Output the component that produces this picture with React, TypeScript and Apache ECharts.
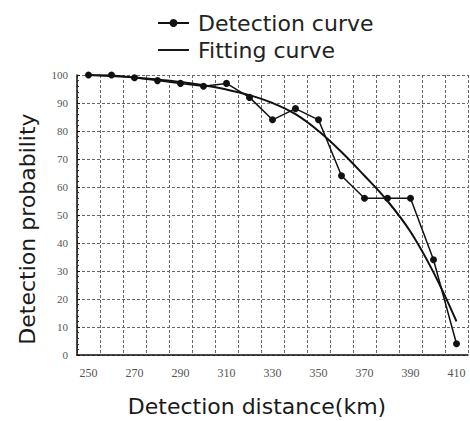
import React, { useEffect, useRef } from "react";
import * as echarts from "echarts";

const distance = [250, 260, 270, 280, 290, 300, 310, 320, 330, 340, 350, 360, 370, 380, 390, 400, 410];
const detection = [100, 100, 99, 98, 97, 96, 97, 92, 84, 88, 84, 64, 56, 56, 56, 34, 4];
const fitting = [100, 99.6, 99.1, 98.4, 97.5, 96.3, 94.8, 92.8, 90, 86, 80, 72.5, 64, 55, 44, 29.5, 12];
const xTickLabels = [250, 270, 290, 310, 330, 350, 370, 390, 410];
const xName = "Detection distance(km)";
const yName = "Detection probability";

export default function App() {
  const ref = useRef<HTMLDivElement>(null);
  useEffect(() => {
    if (!ref.current) return;
    const chart = echarts.init(ref.current, null, { renderer: "svg" });
    const gridLine = { show: true, lineStyle: { color: "#666", type: [3, 2] as any, width: 1 } };
    const sans = "'DejaVu Sans', 'Noto Sans', sans-serif";
    const serif = "'Liberation Serif', 'DejaVu Serif', serif";
    chart.setOption({
      animation: false,
      backgroundColor: "#fff",
      legend: {
        orient: "vertical",
        left: 152,
        top: 6,
        itemWidth: 31,
        itemHeight: 10,
        itemGap: 3,
        symbolKeepAspect: true,
        data: [
          { name: "Detection curve" },
          { name: "Fitting curve", icon: "path://M0,0 L32,0 L32,2 L0,2 Z" },
        ],
        textStyle: { fontSize: 22, fontFamily: sans, color: "#222", lineHeight: 24, padding: [0, 0, 0, 4] },
      },
      graphic: [
        {
          type: "text",
          x: 257,
          y: 406,
          style: { text: xName, fontSize: 22, fontFamily: sans, fill: "#1a1a1a", align: "center", verticalAlign: "middle" },
        },
        {
          type: "text",
          x: 27,
          y: 229,
          rotation: Math.PI / 2,
          style: { text: yName, fontSize: 22, fontFamily: sans, fill: "#1a1a1a", align: "center", verticalAlign: "middle" },
        },
      ],
      grid: { left: 77, right: 2, top: 75, bottom: 66 },
      xAxis: {
        type: "value",
        min: 245,
        max: 415,
        interval: 10,
        axisLine: { show: true, onZero: false, lineStyle: { color: "#111", width: 1.5 } },
        axisTick: { show: false },
        axisLabel: {
          customValues: xTickLabels,
          margin: 12,
          fontSize: 12,
          fontFamily: serif,
          color: "#555",
        },
        splitLine: gridLine,
      },
      yAxis: {
        type: "value",
        min: 0,
        max: 100,
        interval: 10,
        axisLine: { show: true, lineStyle: { color: "#111", width: 1.5 } },
        axisTick: { show: true, inside: true, length: 3, lineStyle: { color: "#111" } },
        minorTick: { show: true, splitNumber: 5, length: 2, lineStyle: { color: "#333" } },
        axisLabel: {
          margin: 9,
          fontSize: 11,
          fontFamily: serif,
          color: "#555",
        },
        splitLine: gridLine,
      },
      series: [
        {
          name: "Detection curve",
          type: "line",
          data: distance.map((d, i) => [d, detection[i]]),
          symbol: "circle",
          symbolSize: 7,
          itemStyle: { color: "#111" },
          lineStyle: { color: "#111", width: 1.5 },
          z: 3,
        },
        {
          name: "Fitting curve",
          type: "line",
          data: distance.map((d, i) => [d, fitting[i]]),
          smooth: 0.4,
          symbol: "none",
          itemStyle: { color: "#111" },
          lineStyle: { color: "#111", width: 2 },
          z: 2,
        },
      ],
    });
    return () => chart.dispose();
  }, []);
  return <div ref={ref} style={{ width: 470, height: 421, position: "absolute", left: 0, top: 0 }} />;
}
